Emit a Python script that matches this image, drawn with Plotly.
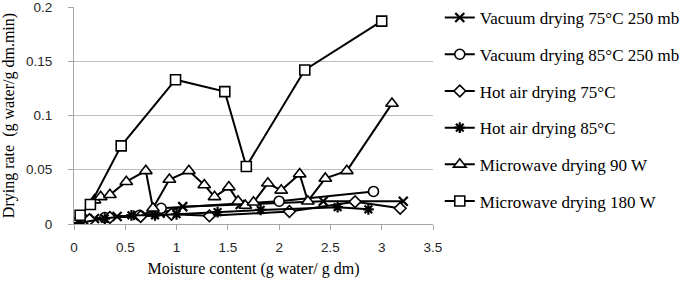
import plotly.graph_objects as go

# Data
vac75_x = [0.05, 0.20, 0.42, 0.62, 0.84, 1.06, 1.62, 2.43, 3.21]
vac75_y = [0.002, 0.005, 0.007, 0.008, 0.010, 0.016, 0.018, 0.021, 0.021]

vac85_x = [0.10, 0.30, 0.64, 0.85, 2.00, 2.92]
vac85_y = [0.004, 0.006, 0.008, 0.0145, 0.021, 0.030]

hot75_x = [0.15, 0.35, 0.65, 0.95, 1.32, 2.10, 2.74, 3.18]
hot75_y = [0.004, 0.006, 0.007, 0.009, 0.0075, 0.0115, 0.0205, 0.0145]

hot85_x = [0.05, 0.30, 0.56, 0.79, 1.00, 1.40, 1.82, 2.57, 2.87]
hot85_y = [0.001, 0.005, 0.008, 0.008, 0.009, 0.011, 0.013, 0.0155, 0.0135]

mw90_x = [0.20, 0.26, 0.35, 0.51, 0.70, 0.77, 0.93, 1.12, 1.27, 1.37, 1.51, 1.60,
          1.67, 1.75, 1.89, 2.02, 2.20, 2.28, 2.45, 2.66, 3.10]
mw90_y = [0.022, 0.025, 0.027, 0.039, 0.049, 0.0145, 0.041, 0.049, 0.036, 0.025, 0.034, 0.021,
          0.017, 0.020, 0.0375, 0.031, 0.046, 0.021, 0.042, 0.049, 0.111]

mw180_x = [0.06, 0.16, 0.46, 0.99, 1.47, 1.68, 2.25, 3.00]
mw180_y = [0.008, 0.018, 0.072, 0.133, 0.122, 0.053, 0.142, 0.187]

names = ["Vacuum drying 75°C 250 mb", "Vacuum drying 85°C 250 mb", "Hot air drying 75°C",
         "Hot air drying 85°C", "Microwave drying 90 W", "Microwave drying 180 W"]

series = [
    (vac75_x, vac75_y, "x-thin", 9),
    (vac85_x, vac85_y, "circle", 10),
    (hot75_x, hot75_y, "diamond", 9),
    (hot85_x, hot85_y, "asterisk", 9),
    (mw90_x, mw90_y, "triangle-up", 11),
    (mw180_x, mw180_y, "square", 10),
]

fig = go.Figure()
for i, ((xs, ys, sym, sz), nm) in enumerate(zip(series, names)):
    fig.add_trace(go.Scatter(
        x=xs, y=ys, mode="lines+markers", name=nm, legendgroup=str(i),
        line=dict(color="black", width=2),
        marker=dict(symbol=sym, size=sz, color="white",
                    line=dict(color="black", width=1.6 if sym not in ("x-thin", "asterisk") else 2.2)),
    ))

serif = "Liberation Serif"
sans = "Liberation Sans"

fig.update_layout(
    width=685, height=282,
    margin=dict(l=74, r=252, t=7, b=58, autoexpand=False),
    paper_bgcolor="white", plot_bgcolor="white",
    font=dict(family=serif, size=16, color="black"),
    showlegend=True,
    legend=dict(x=0.642, y=1.039, xref="container", yref="container",
                xanchor="left", yanchor="top", maxheight=282,
                font=dict(family=serif, size=17, color="black"),
                tracegroupgap=11.6, itemwidth=30, bgcolor="rgba(0,0,0,0)"),
    xaxis=dict(range=[0, 3.5], dtick=0.5, showgrid=False, zeroline=False, automargin=False,
               showline=True, linecolor="#A6A6A6", linewidth=1, ticklabeloverflow="allow",
               ticks="outside", ticklen=5, tickcolor="#A6A6A6", ticklabelstandoff=6,
               tickfont=dict(family=sans, size=13.5, color="#262626"),
               title=dict(text="Moisture content (g water/ g dm)",
                          font=dict(family=serif, size=16, color="black"), standoff=8)),
    yaxis=dict(range=[0, 0.2], dtick=0.05, showgrid=True, gridcolor="#BFBFBF", gridwidth=1,
               zeroline=False, showline=True, linecolor="#A6A6A6", linewidth=1, automargin=False,
               ticks="outside", ticklen=5, tickcolor="#A6A6A6", ticklabelstandoff=13,
               ticklabeloverflow="allow",
               tickfont=dict(family=sans, size=13.5, color="#262626"),
               title=dict(text="Drying rate  (g water/g dm.min)",
                          font=dict(family=serif, size=16, color="black"), standoff=8)),
)

fig.write_html("out.html", config={"displayModeBar": False},
               post_script="document.body.style.margin='0';")
